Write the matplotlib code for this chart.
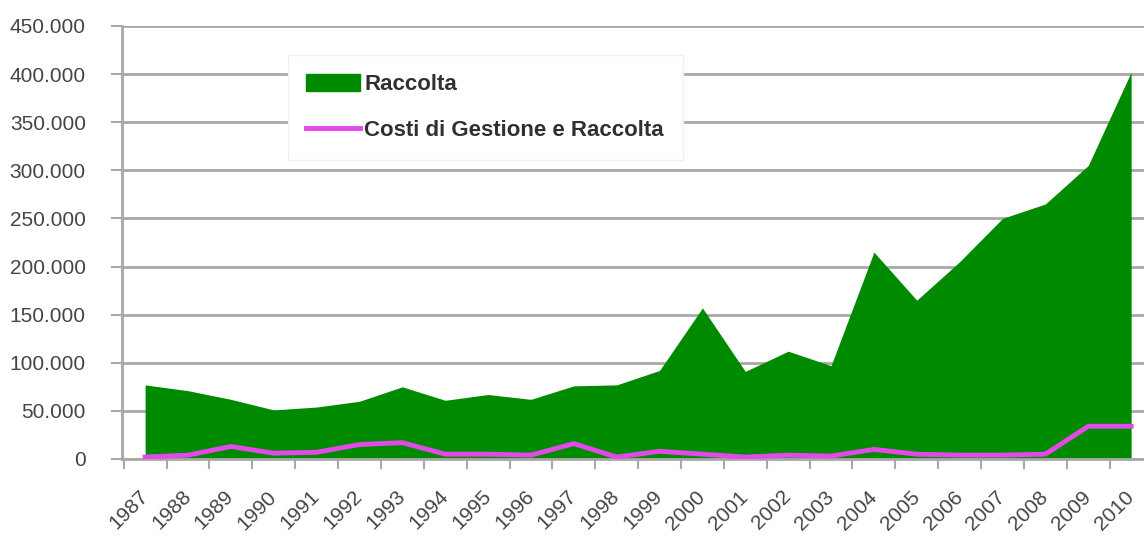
from matplotlib import pyplot as plt
from matplotlib.patches import Patch
from matplotlib.lines import Line2D
from matplotlib.ticker import FuncFormatter, FixedLocator
import numpy as np

# Data
anni = ['1987', '1988', '1989', '1990', '1991', '1992', '1993', '1994',
        '1995', '1996', '1997', '1998', '1999', '2000', '2001', '2002',
        '2003', '2004', '2005', '2006', '2007', '2008', '2009', '2010']
raccolta = [77000, 71000, 62000, 51000, 54000, 60000, 75000, 61000,
            67000, 62000, 76000, 77000, 92000, 157000, 91000, 112000,
            97000, 215000, 165000, 205000, 250000, 265000, 305000, 402000]
costi = [2000, 4000, 13000, 6000, 7000, 15000, 17000, 5000,
         5000, 4000, 16000, 2000, 8000, 5000, 2000, 4000,
         3000, 10000, 5000, 4000, 4000, 5000, 34000, 34000]

verde = '#008a00'
magenta = '#e448e8'
grigio = '#a8a8a8'

plt.rcParams['font.family'] = ['Liberation Sans', 'DejaVu Sans']

fig = plt.figure(figsize=(11.44, 5.4), dpi=100)
ax = fig.add_axes([0.1066, 0.15, 0.8934, 0.802])

x = np.arange(len(anni))
ax.fill_between(x, raccolta, 0, color=verde, lw=0, zorder=2)
ax.plot(x, costi, color=magenta, lw=3.5, zorder=3)

# Axes limits
ax.set_xlim(-0.54, 23.3)
ax.set_ylim(0, 450000)

# Y axis
ax.set_yticks(np.arange(0, 450001, 50000))
ax.yaxis.set_major_formatter(
    FuncFormatter(lambda v, p: '{:,.0f}'.format(v).replace(',', '.')))
ax.grid(axis='y', color=grigio, lw=2, zorder=1)
ax.tick_params(axis='y', length=8, width=1.5, color=grigio,
               labelsize=15, labelcolor='#454545', pad=18)

# X axis: labels on categories, tick marks between them
ax.set_xticks(x)
ax.set_xticklabels(anni, rotation=45, fontsize=15, color='#454545')
ax.tick_params(axis='x', which='major', length=0, pad=25)
ax.xaxis.set_minor_locator(FixedLocator(np.arange(-0.5, 24, 1)))
ax.tick_params(axis='x', which='minor', length=7, width=1.5, color=grigio)
for lab in ax.get_xticklabels():
    lab.set_ha('right')
    lab.set_va('center')
    lab.set_rotation_mode('anchor')

for s in ['top', 'right']:
    ax.spines[s].set_visible(False)
for s in ['left', 'bottom']:
    ax.spines[s].set_color(grigio)
    ax.spines[s].set_linewidth(2)

# Legend
handles = [Patch(facecolor=verde, edgecolor=verde),
           Line2D([0], [0], color=magenta, lw=3.5)]
leg = ax.legend(handles, ['Raccolta', 'Costi di Gestione e Raccolta'],
                loc='upper left', bbox_to_anchor=(0.162, 0.933),
                handlelength=2.4, handleheight=0.8,
                handletextpad=0.2, labelspacing=1.1, borderpad=0.85,
                borderaxespad=0, frameon=True, fancybox=False,
                prop={'weight': 'bold', 'size': 16})
leg.get_frame().set_edgecolor('#f0f0f0')
leg.get_frame().set_facecolor('white')
leg.get_frame().set_alpha(1)
for t in leg.get_texts():
    t.set_color('#303030')

plt.savefig('out.png', dpi=100)
